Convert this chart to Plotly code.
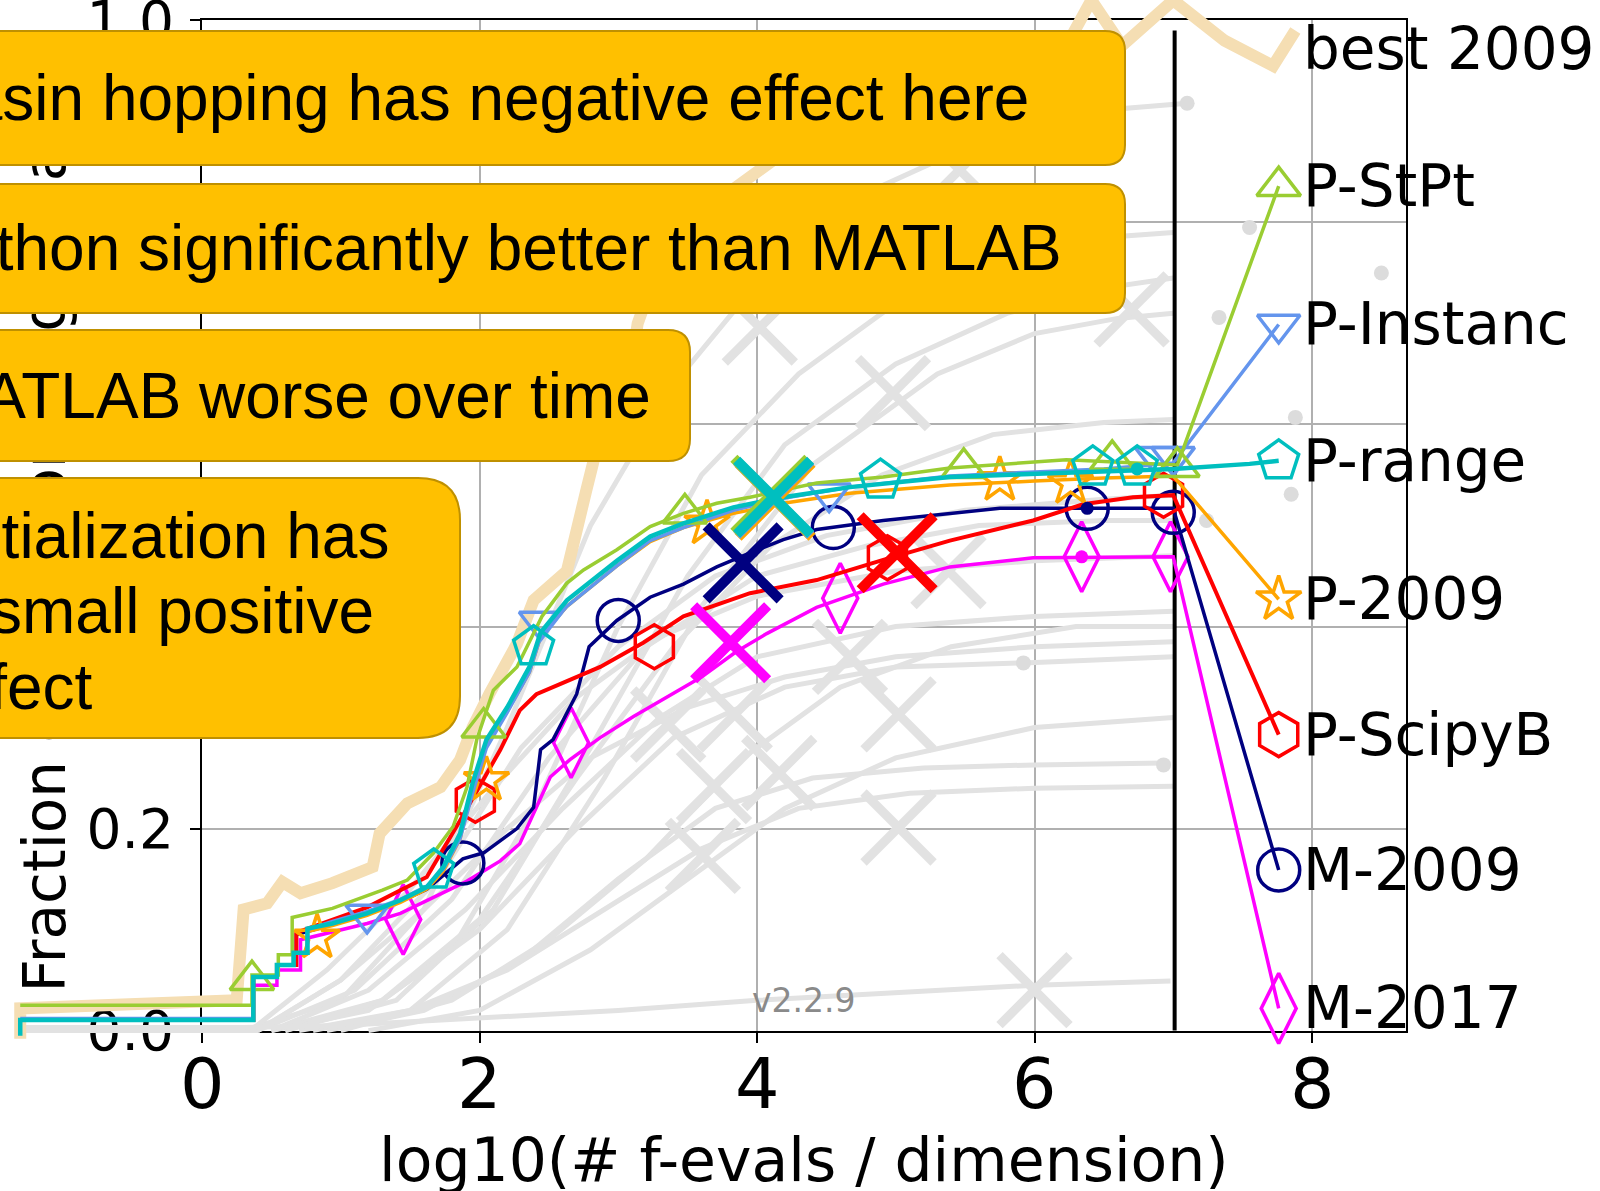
import plotly.graph_objects as go

# ---------------- data ----------------
LABELS = ["best 2009", "P-StPt", "P-Instanc", "P-range", "P-2009", "P-ScipyB", "M-2009", "M-2017"]
LABEL_Y = [0.972, 0.836, 0.699, 0.564, 0.427, 0.293, 0.159, 0.022]
LEGEND_X = 7.76
LABEL_X = 7.92
BUDGET_X = 7.01

BEST_X = [-1.31, -1.31, 0.25, 0.30, 0.47, 0.58, 0.71, 0.94, 1.23, 1.28, 1.48, 1.72, 1.86, 1.95, 2.07,
          2.27, 2.39, 2.63, 2.77, 2.88, 3.07, 3.14, 3.25, 3.42, 3.70, 4.00, 4.50, 5.00, 5.60, 6.23,
          6.41, 6.63, 7.00, 7.37, 7.72, 7.88]
BEST_Y = [-0.008, 0.022, 0.03, 0.12, 0.126, 0.147, 0.136, 0.146, 0.162, 0.195, 0.225, 0.241, 0.268, 0.30, 0.333,
          0.383, 0.426, 0.455, 0.535, 0.596, 0.636, 0.70, 0.742, 0.79, 0.82, 0.85, 0.90, 0.93, 0.95, 0.975,
          1.02, 0.975, 1.02, 0.98, 0.955, 0.99]

STPT_X = [-1.31, 0.36, 0.36, 0.55, 0.55, 0.65, 0.65, 0.94, 1.30, 1.48, 1.67, 1.81, 1.91, 1.98, 2.10, 2.27,
          2.45, 2.63, 2.75, 2.99, 3.23, 3.47, 3.71, 3.95, 4.19, 4.43, 4.91, 5.39, 6.23, 7.03, 7.76]
STPT_Y = [0.025, 0.025, 0.055, 0.055, 0.075, 0.075, 0.112, 0.121, 0.139, 0.149, 0.176, 0.202, 0.241, 0.288,
          0.337, 0.36, 0.41, 0.443, 0.456, 0.476, 0.499, 0.512, 0.522, 0.528, 0.535, 0.542, 0.548, 0.557,
          0.565, 0.56, 0.836]
STPT_MX = [0.36, 2.03, 3.48, 5.49, 6.56, 7.03, 7.76]
STPT_MY = [0.05, 0.30, 0.512, 0.557, 0.565, 0.558, 0.836]

INST_X = [-1.31, 0.37, 0.37, 0.54, 0.54, 0.66, 0.66, 0.76, 0.76, 0.94, 1.19, 1.43, 1.62, 1.74, 1.86, 1.95,
          2.05, 2.20, 2.36, 2.44, 2.63, 2.99, 3.23, 3.47, 3.83, 4.19, 4.67, 5.39, 6.00, 6.50, 7.00, 7.76]
INST_Y = [0.012, 0.012, 0.053, 0.053, 0.065, 0.065, 0.077, 0.077, 0.10, 0.108, 0.118, 0.13, 0.143, 0.16,
          0.19, 0.235, 0.28, 0.315, 0.355, 0.39, 0.42, 0.46, 0.485, 0.498, 0.515, 0.527, 0.538, 0.549,
          0.553, 0.556, 0.562, 0.699]
INST_MX = [1.19, 2.44, 4.52, 6.88, 7.0, 7.76]
INST_MY = [0.115, 0.405, 0.532, 0.568, 0.568, 0.699]

RANGE_X = [-1.31, -1.31, 0.37, 0.37, 0.54, 0.54, 0.66, 0.66, 0.76, 0.76, 0.94, 1.19, 1.43, 1.62, 1.74,
           1.86, 1.95, 2.05, 2.20, 2.36, 2.44, 2.63, 2.99, 3.23, 3.47, 3.83, 4.19, 4.67, 5.39, 5.75,
           6.35, 6.74, 7.00, 7.55, 7.76]
RANGE_Y = [-0.005, 0.0105, 0.0105, 0.053, 0.053, 0.065, 0.065, 0.077, 0.077, 0.101, 0.106, 0.116, 0.129,
           0.142, 0.162, 0.195, 0.245, 0.288, 0.32, 0.36, 0.394, 0.426, 0.465, 0.489, 0.502, 0.518,
           0.528, 0.538, 0.548, 0.55, 0.553, 0.555, 0.556, 0.561, 0.564]
RANGE_MX = [1.67, 2.39, 4.89, 6.42, 6.74, 7.76]
RANGE_MY = [0.159, 0.38, 0.545, 0.558, 0.558, 0.564]

P09_X = [-1.31, 0.37, 0.37, 0.54, 0.54, 0.66, 0.66, 0.76, 0.76, 0.94, 1.19, 1.43, 1.62, 1.74, 1.86, 1.95,
         2.05, 2.20, 2.36, 2.44, 2.63, 2.99, 3.23, 3.47, 3.83, 4.19, 4.67, 5.39, 6.00, 6.50, 7.00, 7.76]
P09_Y = [0.0105, 0.0105, 0.053, 0.053, 0.065, 0.065, 0.077, 0.077, 0.098, 0.104, 0.114, 0.127, 0.14, 0.158,
         0.19, 0.24, 0.284, 0.316, 0.355, 0.39, 0.42, 0.46, 0.484, 0.498, 0.512, 0.522, 0.532, 0.54,
         0.544, 0.547, 0.549, 0.427]
P09_MX = [0.83, 2.05, 3.64, 5.75, 6.26, 7.76]
P09_MY = [0.092, 0.248, 0.502, 0.545, 0.542, 0.427]

SCIPY_X = [-1.31, 0.37, 0.37, 0.54, 0.54, 0.68, 0.68, 0.94, 1.19, 1.43, 1.62, 1.86, 2.00, 2.15, 2.29, 2.41,
           2.58, 2.87, 3.18, 3.47, 3.95, 4.43, 4.91, 5.39, 5.99, 6.35, 6.71, 7.00, 7.76]
SCIPY_Y = [0.0105, 0.0105, 0.053, 0.053, 0.065, 0.065, 0.097, 0.11, 0.122, 0.139, 0.152, 0.208, 0.241,
           0.278, 0.317, 0.333, 0.343, 0.36, 0.384, 0.41, 0.433, 0.446, 0.466, 0.485, 0.505, 0.521,
           0.528, 0.53, 0.293]
SCIPY_MX = [1.97, 3.26, 4.94, 6.93, 7.76]
SCIPY_MY = [0.228, 0.38, 0.468, 0.53, 0.293]

M09_X = [-1.31, 0.37, 0.37, 0.54, 0.54, 0.68, 0.68, 0.94, 1.19, 1.43, 1.62, 1.88, 2.03, 2.27, 2.39, 2.44,
         2.53, 2.70, 2.79, 2.99, 3.23, 3.47, 3.71, 3.95, 4.19, 4.43, 4.91, 5.39, 5.75, 6.35, 7.00, 7.76]
M09_Y = [0.0105, 0.0105, 0.053, 0.053, 0.065, 0.065, 0.095, 0.105, 0.116, 0.128, 0.14, 0.17, 0.176, 0.20,
         0.221, 0.278, 0.288, 0.333, 0.38, 0.406, 0.429, 0.442, 0.459, 0.473, 0.486, 0.496, 0.505,
         0.512, 0.517, 0.517, 0.517, 0.159]
M09_MX = [1.88, 3.0, 4.55, 6.38, 7.0, 7.76]
M09_MY = [0.166, 0.406, 0.498, 0.517, 0.513, 0.159]

M17_X = [-1.31, 0.37, 0.37, 0.54, 0.54, 0.71, 0.71, 0.94, 1.19, 1.43, 1.67, 1.91, 2.15, 2.29, 2.41, 2.51,
         2.65, 2.87, 3.11, 3.35, 3.60, 3.85, 4.07, 4.43, 4.91, 5.39, 5.99, 7.00, 7.76]
M17_Y = [0.0105, 0.0105, 0.045, 0.045, 0.06, 0.06, 0.09, 0.098, 0.106, 0.116, 0.132, 0.148, 0.168, 0.185,
         0.221, 0.251, 0.268, 0.29, 0.311, 0.33, 0.35, 0.375, 0.393, 0.419, 0.442, 0.459, 0.468,
         0.469, 0.022]
M17_MX = [1.45, 2.66, 4.60, 6.34, 6.98, 7.76]
M17_MY = [0.11, 0.285, 0.428, 0.469, 0.469, 0.022]

# big crosses (median of final evaluations)
CROSS_X = {"P-StPt": 4.10, "P-Instanc": 4.12, "P-range": 4.12, "P-2009": 4.13,
           "P-ScipyB": 5.01, "M-2009": 3.90, "M-2017": 3.81}
CROSS_Y = {"P-StPt": 0.530, "P-Instanc": 0.527, "P-range": 0.528, "P-2009": 0.525,
           "P-ScipyB": 0.473, "M-2009": 0.463, "M-2017": 0.384}

# small filled dots on some curves
DOT_X = {"P-range": 6.74, "M-2009": 6.38, "M-2017": 6.34}
DOT_Y = {"P-range": 0.556, "M-2009": 0.517, "M-2017": 0.469}

# background algorithms (grey)
GRAY_CURVES = [
    ([-1.31, 0.3, 1.0, 1.6, 2.2, 2.8, 3.4, 4.0, 4.8, 5.6, 6.4, 7.1], [0.0, 0.0, 0.03, 0.12, 0.30, 0.50, 0.64, 0.74, 0.83, 0.88, 0.91, 0.918]),
    ([0.5, 1.2, 1.8, 2.4, 3.0, 3.6, 4.3, 5.0, 5.8, 6.5, 7.0], [0.0, 0.02, 0.08, 0.22, 0.40, 0.55, 0.65, 0.72, 0.77, 0.785, 0.79]),
    ([0.6, 1.4, 2.1, 2.8, 3.5, 4.2, 5.0, 5.8, 6.5, 7.0], [0.0, 0.03, 0.12, 0.28, 0.45, 0.58, 0.66, 0.71, 0.735, 0.745]),
    ([0.8, 1.5, 2.2, 2.9, 3.6, 4.4, 5.3, 6.0, 6.6, 7.0], [0.0, 0.02, 0.10, 0.25, 0.42, 0.56, 0.65, 0.69, 0.705, 0.71]),
    ([0.5, 1.3, 2.0, 2.7, 3.4, 4.1, 4.9, 5.7, 6.5, 7.0], [0.0, 0.03, 0.11, 0.25, 0.38, 0.48, 0.55, 0.59, 0.602, 0.605]),
    ([-1.31, 0.4, 1.1, 1.8, 2.5, 3.2, 4.0, 4.8, 5.6, 6.5, 7.0], [0.0, 0.0, 0.04, 0.13, 0.27, 0.38, 0.45, 0.48, 0.50, 0.505, 0.505]),
    ([0.4, 1.0, 1.7, 2.3, 3.0, 3.7, 4.5, 5.5, 6.5, 7.0], [0.0, 0.05, 0.15, 0.28, 0.38, 0.45, 0.49, 0.515, 0.526, 0.53]),
    ([-1.31, 0.35, 0.9, 1.5, 2.1, 2.7, 3.3, 4.0, 5.0, 6.0, 7.0], [0.0, 0.0, 0.06, 0.14, 0.24, 0.33, 0.39, 0.43, 0.455, 0.465, 0.47]),
    ([0.6, 1.3, 2.0, 2.7, 3.4, 4.2, 5.0, 5.92, 7.0], [0.0, 0.03, 0.10, 0.20, 0.29, 0.34, 0.36, 0.364, 0.37]),
    ([0.5, 1.2, 1.9, 2.6, 3.3, 4.0, 5.0, 6.0, 7.0], [0.0, 0.04, 0.12, 0.22, 0.31, 0.37, 0.40, 0.41, 0.415]),
    ([0.9, 1.6, 2.3, 3.0, 3.7, 4.4, 5.2, 6.0, 6.93], [0.0, 0.02, 0.07, 0.15, 0.22, 0.25, 0.26, 0.263, 0.265]),
    ([0.7, 1.5, 2.2, 2.9, 3.6, 4.3, 5.1, 6.0, 7.0], [0.0, 0.02, 0.06, 0.12, 0.18, 0.22, 0.235, 0.24, 0.242]),
    ([1.2, 2.0, 2.8, 3.5, 4.2, 5.0, 6.0, 7.0], [0.0, 0.02, 0.08, 0.15, 0.22, 0.27, 0.30, 0.31]),
    ([-1.31, 0.3, 1.0, 2.0, 3.0, 4.0, 5.0, 6.0, 6.98], [0.003, 0.003, 0.005, 0.012, 0.02, 0.03, 0.038, 0.045, 0.049]),
    ([1.0, 1.8, 2.5, 3.2, 3.9, 4.6, 5.4, 6.3, 7.0], [0.0, 0.03, 0.09, 0.17, 0.27, 0.34, 0.38, 0.40, 0.40]),
    ([0.4, 1.0, 1.6, 2.2, 2.8, 3.5, 4.2, 5.0, 6.0, 7.0], [0.0, 0.05, 0.12, 0.20, 0.27, 0.32, 0.35, 0.37, 0.38, 0.385]),
]
GRAY_DOT_X = [7.1, 7.55, 8.5, 7.33, 7.88, 7.85, 7.24, 6.93, 5.92]
GRAY_DOT_Y = [0.918, 0.795, 0.75, 0.706, 0.607, 0.531, 0.505, 0.263, 0.364]
GRAY_CROSS_X = [4.02, 4.98, 6.70, 5.46, 5.02, 3.84, 3.69, 5.02, 3.36, 5.38, 6.00, 4.16, 4.67, 3.61]
GRAY_CROSS_Y = [0.696, 0.631, 0.714, 0.852, 0.313, 0.313, 0.242, 0.201, 0.303, 0.455, 0.04, 0.255, 0.37, 0.173]

X_TICKS = [0, 2, 4, 6, 8]
Y_TICKS = [0.0, 0.2, 0.4, 0.6, 0.8, 1.0]

NOTES = [
    ("Basin hopping has negative effect here", 1031, 98),
    ("Python significantly better than MATLAB", 1064, 248),
    ("MATLAB worse over time", 653, 396),
    ("Initialization has", 391, 536),
    ("small positive", 376, 611),
    ("effect", 95, 687),
]

# ---------------- geometry ----------------
W, H = 1600, 1191
ML, MR, MT, MB = 0, 194, 0, 150
PW, PH = W - ML - MR, H - MT - MB          # 1406 x 1041
X0PX, XUNIT = 202.0, 138.75                # pixel of x=0, px per unit
Y0PX, YUNIT = 1030.6, 1010.2               # pixel of y=0, px per unit


def paper_x(p):
    return p / PW


def paper_y(p):
    return (PH - p) / PH


X2_RANGE = [-X0PX / XUNIT, (PW - X0PX) / XUNIT]
Y2_RANGE = [(Y0PX - PH) / YUNIT, Y0PX / YUNIT]
X_DOMAIN = [X0PX / PW, 1.0]
Y_DOMAIN = [paper_y(Y0PX), paper_y(Y0PX - YUNIT)]

COLORS = {"best 2009": "#F5DEB3", "P-StPt": "#9ACD32", "P-Instanc": "#6495ED", "P-range": "#00BFBF",
          "P-2009": "#FFA500", "P-ScipyB": "#FF0000", "M-2009": "#000080", "M-2017": "#FF00FF"}
SYMBOLS = {"P-StPt": "triangle-up-open", "P-Instanc": "triangle-down-open", "P-range": "pentagon-open",
           "P-2009": "star-open", "P-ScipyB": "hexagon-open", "M-2009": "circle-open",
           "M-2017": "diamond-tall-open"}
MSIZE = {"P-StPt": 38, "P-Instanc": 37, "P-range": 42, "P-2009": 34, "P-ScipyB": 44,
         "M-2009": 42, "M-2017": 50}
GRAY = "#E2E2E2"

fig = go.Figure()
ax2 = dict(xaxis="x2", yaxis="y2", hoverinfo="skip", showlegend=False)

for gx, gy in GRAY_CURVES:
    fig.add_trace(go.Scatter(x=gx, y=gy, mode="lines", line=dict(color=GRAY, width=5), **ax2))
fig.add_trace(go.Scatter(x=GRAY_CROSS_X, y=GRAY_CROSS_Y, mode="markers", cliponaxis=False,
                         marker=dict(symbol="x-thin-open", size=70, color=GRAY,
                                     line=dict(color=GRAY, width=9)), **ax2))
fig.add_trace(go.Scatter(x=GRAY_DOT_X, y=GRAY_DOT_Y, mode="markers", cliponaxis=False,
                         marker=dict(symbol="circle", size=15, color="#DCDCDC"), **ax2))

# best 2009
fig.add_trace(go.Scatter(x=BEST_X, y=BEST_Y, mode="lines",
                         line=dict(color=COLORS["best 2009"], width=12), **ax2))

# budget line
fig.add_trace(go.Scatter(x=[BUDGET_X, BUDGET_X], y=[0.0, 0.99], mode="lines",
                         line=dict(color="black", width=4), **ax2))

SERIES = [
    ("M-2017", M17_X, M17_Y, M17_MX, M17_MY),
    ("M-2009", M09_X, M09_Y, M09_MX, M09_MY),
    ("P-ScipyB", SCIPY_X, SCIPY_Y, SCIPY_MX, SCIPY_MY),
    ("P-2009", P09_X, P09_Y, P09_MX, P09_MY),
    ("P-Instanc", INST_X, INST_Y, INST_MX, INST_MY),
    ("P-StPt", STPT_X, STPT_Y, STPT_MX, STPT_MY),
    ("P-range", RANGE_X, RANGE_Y, RANGE_MX, RANGE_MY),
]
LW = {"M-2017": 3.5, "M-2009": 3.5, "P-ScipyB": 4, "P-2009": 3.5, "P-Instanc": 3.5, "P-StPt": 3.5,
      "P-range": 4.5}

for name, sx, sy, mx, my in SERIES:
    c = COLORS[name]
    fig.add_trace(go.Scatter(x=sx, y=sy, mode="lines", line=dict(color=c, width=LW[name]), **ax2))
    fig.add_trace(go.Scatter(x=mx, y=my, mode="markers", cliponaxis=False,
                             marker=dict(symbol=SYMBOLS[name], size=MSIZE[name], color=c,
                                         line=dict(color=c, width=3.5)), **ax2))

for name, sx, sy, mx, my in SERIES:
    c = COLORS[name]
    fig.add_trace(go.Scatter(x=[CROSS_X[name]], y=[CROSS_Y[name]], mode="markers", cliponaxis=False,
                             marker=dict(symbol="x-thin-open", size=74, color=c,
                                         line=dict(color=c, width=10)), **ax2))
    if name in DOT_X:
        fig.add_trace(go.Scatter(x=[DOT_X[name]], y=[DOT_Y[name]], mode="markers", cliponaxis=False,
                                 marker=dict(symbol="circle", size=13, color=c), **ax2))

# dummy trace on the main (grid) subplot
fig.add_trace(go.Scatter(x=[None], y=[None], mode="lines", hoverinfo="skip", showlegend=False))

annotations = []
for lab, ly in zip(LABELS, LABEL_Y):
    annotations.append(dict(x=LABEL_X, y=ly, xref="x2", yref="y2", text=lab, showarrow=False,
                            xanchor="left", yanchor="middle",
                            font=dict(family="DejaVu Sans", size=58, color="black")))

annotations.append(dict(x=4.34, y=0.03, xref="x2", yref="y2", text="v2.2.9", showarrow=False,
                        xanchor="center", yanchor="middle",
                        font=dict(family="DejaVu Sans", size=33, color="#8a8a8a")))
# x tick labels
for v in X_TICKS:
    annotations.append(dict(x=v, y=paper_y(1084), xref="x2", yref="paper", text=str(v), showarrow=False,
                            xanchor="center", yanchor="middle",
                            font=dict(family="DejaVu Sans", size=70, color="black")))
annotations.append(dict(x=paper_x(804), y=paper_y(1160), xref="paper", yref="paper",
                        text="log10(# f-evals / dimension)", showarrow=False,
                        xanchor="center", yanchor="middle",
                        font=dict(family="DejaVu Sans", size=60, color="black")))

for txt, xr, yc in NOTES:
    annotations.append(dict(x=paper_x(xr), y=paper_y(yc), xref="paper", yref="paper", text=txt,
                            showarrow=False, xanchor="right", yanchor="middle",
                            font=dict(family="Liberation Sans", size=64, color="black")))


def rrect(x0, x1, y0, y1, r):
    def P(a, b):
        return f"{paper_x(a):.5f},{paper_y(b):.5f}"
    d = (f"M {P(x0 + r, y0)} L {P(x1 - r, y0)} Q {P(x1, y0)} {P(x1, y0 + r)} "
         f"L {P(x1, y1 - r)} Q {P(x1, y1)} {P(x1 - r, y1)} L {P(x0 + r, y1)} "
         f"Q {P(x0, y1)} {P(x0, y1 - r)} L {P(x0, y0 + r)} Q {P(x0, y0)} {P(x0 + r, y0)} Z")
    return d


shapes = []
# y-axis title, drawn under the note boxes
shapes.append(dict(type="rect", xref="paper", yref="paper", layer="below",
                   x0=paper_x(11), x1=paper_x(71), y0=paper_y(1000), y1=paper_y(68),
                   fillcolor="rgba(0,0,0,0)", line=dict(width=0),
                   label=dict(text="Fraction of function,target pairs", textangle=-90,
                              textposition="middle center",
                              font=dict(family="DejaVu Sans", size=58, color="black"))))

BOXES = [(-40, 1125, 31, 165, 20), (-40, 1125, 184, 313, 20), (-40, 690, 330, 461, 22),
         (-40, 460, 478, 738, 42)]
for bx0, bx1, by0, by1, br in BOXES:
    shapes.append(dict(type="path", xref="paper", yref="paper", path=rrect(bx0, bx1, by0, by1, br),
                       fillcolor="#FFC000", line=dict(color="#BF9000", width=2), layer="above"))

fig.update_layout(
    width=W, height=H, margin=dict(l=ML, r=MR, t=MT, b=MB, pad=0, autoexpand=False),
    paper_bgcolor="white", plot_bgcolor="rgba(0,0,0,0)",
    showlegend=False,
    xaxis=dict(domain=X_DOMAIN, range=[0, X2_RANGE[1]], tickvals=X_TICKS, showticklabels=False,
               showgrid=True, gridcolor="#b0b0b0", gridwidth=2, zeroline=False,
               showline=True, mirror=True, linecolor="black", linewidth=2,
               ticks="outside", ticklen=10, tickwidth=2, tickcolor="black",
               anchor="y", fixedrange=True, automargin=False),
    yaxis=dict(domain=Y_DOMAIN, range=[0, 1], tickvals=Y_TICKS, ticktext=[f"{v:.1f}" for v in Y_TICKS],
               showgrid=True, gridcolor="#b0b0b0", gridwidth=2, zeroline=False,
               showline=True, mirror=True, linecolor="black", linewidth=2,
               ticks="outside", ticklen=10, tickwidth=2, tickcolor="black",
               tickfont=dict(family="DejaVu Sans", size=55, color="black"), ticklabelstandoff=5,
               ticklabeloverflow="allow", anchor="x", fixedrange=True, automargin=False),
    xaxis2=dict(domain=[0, 1], range=X2_RANGE, visible=False, anchor="y2", fixedrange=True,
                automargin=False),
    yaxis2=dict(domain=[0, 1], range=Y2_RANGE, visible=False, anchor="x2", fixedrange=True,
                automargin=False),
    annotations=annotations,
    shapes=shapes,
)

fig.write_html("out.html")
